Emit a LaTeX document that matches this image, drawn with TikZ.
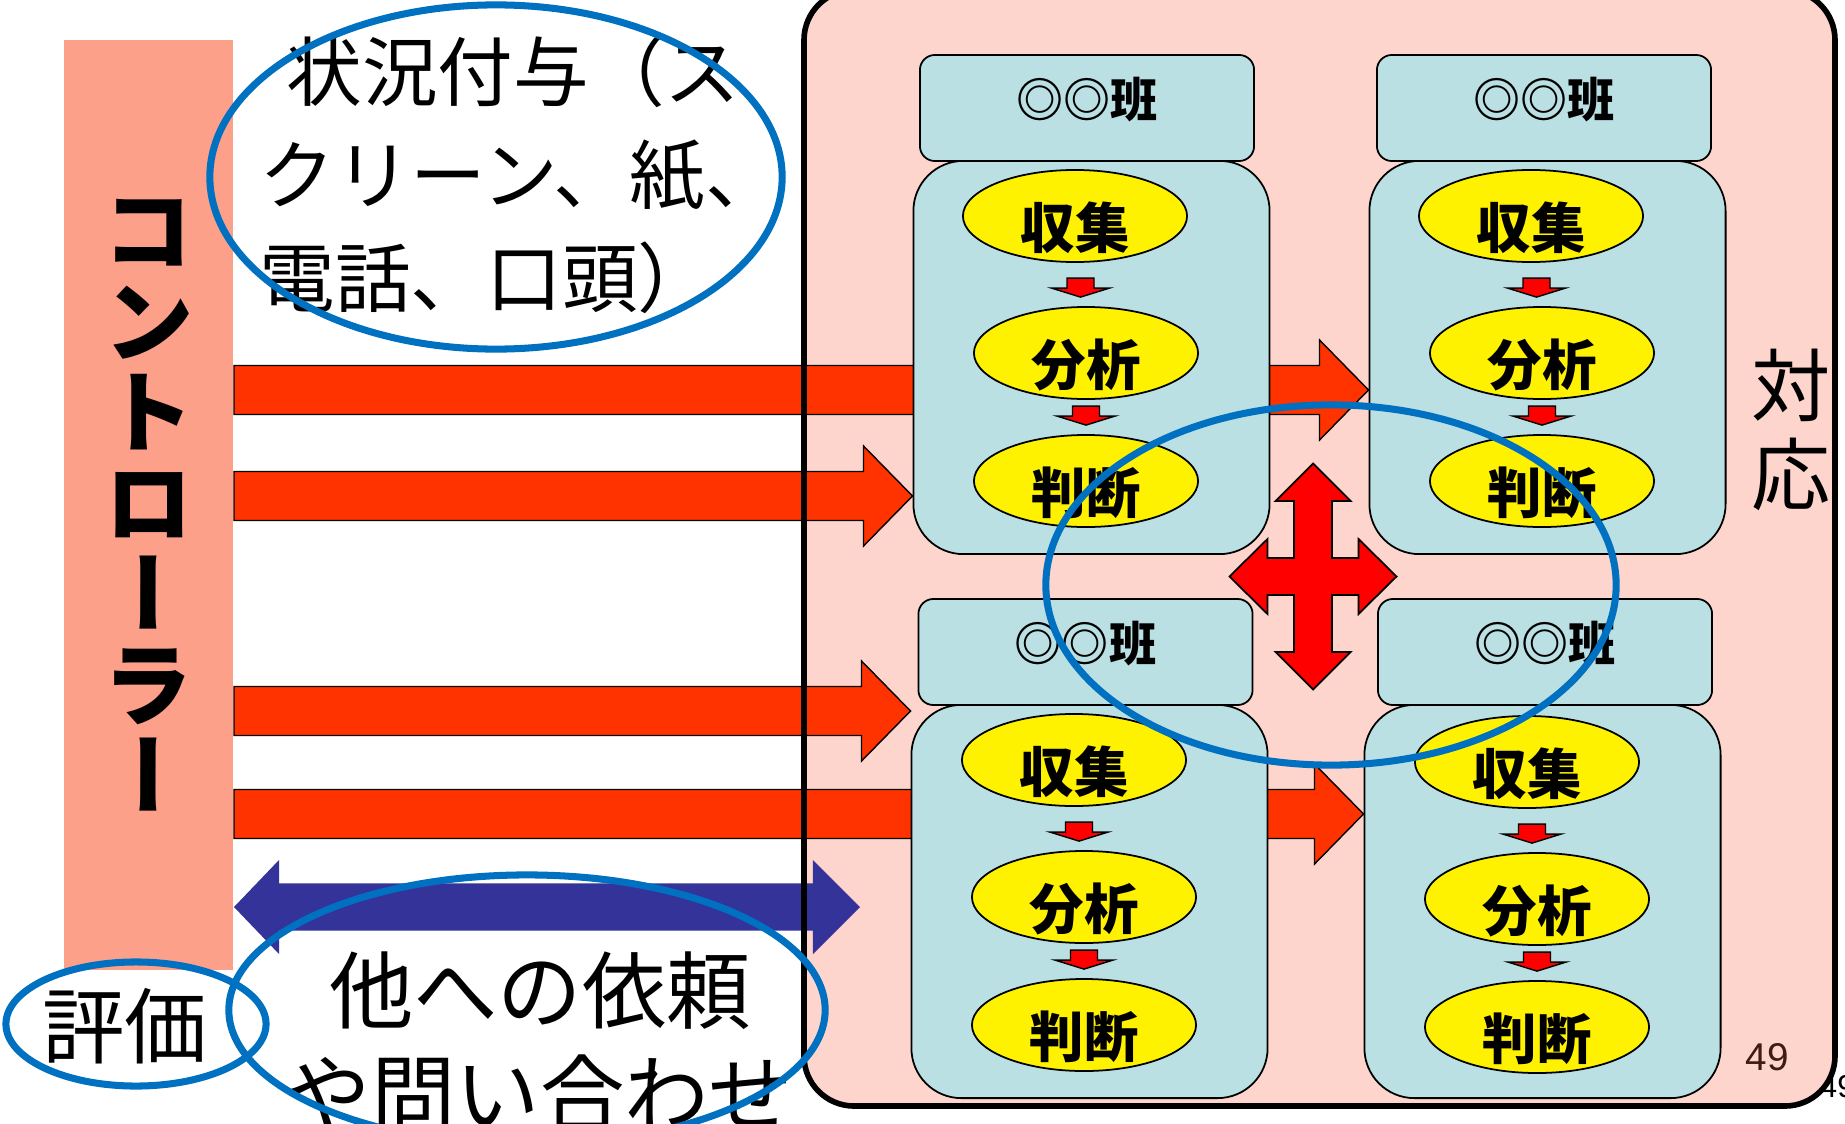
\documentclass[tikz,border=0pt]{standalone}
\usepackage{fontspec}
\setmainfont{Liberation Sans}
\newfontfamily\jp{Noto Sans CJK JP}
\newfontfamily\jpvert{Noto Sans CJK JP}[RawFeature=+vert]
\usetikzlibrary{calc,shapes.geometric}
\definecolor{ctrlsalmon}{RGB}{252,160,137}
\definecolor{resppink}{RGB}{254,213,204}
\definecolor{teamblue}{RGB}{186,224,227}
\definecolor{feedred}{RGB}{255,51,0}
\definecolor{askblue}{RGB}{51,51,153}
\definecolor{ringblue}{RGB}{0,112,192}
\definecolor{stepred}{RGB}{255,0,0}
\definecolor{pagebrown}{RGB}{64,28,16}
\pgfdeclarelayer{paper}
\pgfdeclarelayer{links}
\pgfsetlayers{paper,links,main}
\tikzset{
  ctrlbar/.style={fill=ctrlsalmon, minimum width=1.69cm, minimum height=9.3cm, inner sep=0pt,
    align=center, font=\jpvert\bfseries\fontsize{26}{25.9}\selectfont},
  respbox/.style={fill=resppink, rounded corners=0.5cm, minimum width=10.29cm, minimum height=11.14cm, inner sep=0pt},
  respedge/.style={line width=1.6pt, rounded corners=0.5cm},
  teambody/.style={draw=black, line width=0.5pt, fill=teamblue, rounded corners=0.5cm,
    minimum width=3.56cm, minimum height=3.93cm, inner sep=0pt},
  teamhead/.style={draw=black, line width=0.5pt, fill=teamblue, rounded corners=0.15cm,
    minimum width=3.34cm, minimum height=1.06cm, inner sep=0pt,
    text height=0.3cm, text depth=0.12cm, font=\jp\bfseries\fontsize{13.4}{14}\selectfont},
  task/.style={ellipse, draw=black, line width=0.5pt, fill=yellow, minimum width=2.24cm, minimum height=0.92cm,
    inner sep=0pt, text height=0.64cm, text depth=0cm, font=\jp\bfseries\fontsize{15.5}{16}\selectfont},
  flow/.style={draw=black, line width=0.4pt, fill=stepred,
    to path={let \p1=($(\tikztostart.south)!.5!(\tikztotarget.north)$), \p2=(\tikztotarget.north) in
      (\x1-0.135cm,\y2+0.28cm) -- (\x1+0.135cm,\y2+0.28cm) -- (\x1+0.135cm,\y2+0.18cm) -- (\x1+0.29cm,\y2+0.18cm)
      -- (\x1,\y2+0.09cm) -- (\x1-0.29cm,\y2+0.18cm) -- (\x1-0.135cm,\y2+0.18cm) -- cycle}},
  feed/.style={draw=black, line width=0.4pt, fill=feedred,
    to path={let \p1=(\tikztostart), \p2=(\tikztotarget) in
      (\x1,\y1+0.245cm) -- (\x2-0.49cm,\y1+0.245cm) -- (\x2-0.49cm,\y1+0.5cm) -- (\x2,\y1)
      -- (\x2-0.49cm,\y1-0.5cm) -- (\x2-0.49cm,\y1-0.245cm) -- (\x1,\y1-0.245cm) -- cycle}},
  ask/.style={fill=askblue,
    to path={let \p1=(\tikztostart), \p2=(\tikztotarget) in
      (\x1,\y1) -- (\x1+0.45cm,\y1+0.47cm) -- (\x1+0.45cm,\y1+0.235cm) -- (\x2-0.47cm,\y1+0.235cm)
      -- (\x2-0.47cm,\y1+0.47cm) -- (\x2,\y1) -- (\x2-0.47cm,\y1-0.47cm) -- (\x2-0.47cm,\y1-0.235cm)
      -- (\x1+0.45cm,\y1-0.235cm) -- (\x1+0.45cm,\y1-0.47cm) -- cycle}},
  linkarrow/.style={draw=black, line width=0.5pt, fill=stepred},
  ring/.style={draw=ringblue, line width=2pt},
  given/.style={anchor=west, align=left, inner sep=0pt, font=\jp\fontsize{21.5}{29.3}\selectfont},
  request/.style={align=center, inner sep=0pt, font=\jp\fontsize{24}{29.5}\selectfont},
  review/.style={inner sep=0pt, font=\jp\fontsize{23.5}{28}\selectfont},
  resplabel/.style={align=center, inner sep=0pt, font=\jpvert\fontsize{22.5}{25.3}\selectfont},
  pagenum/.style={inner sep=0pt, text=pagebrown, font=\fontsize{11}{12}\selectfont},
}
\begin{document}
\begin{tikzpicture}[x=0.01cm, y=-0.01cm]
\useasboundingbox (0,0) rectangle (1845,1124);
%
\begin{pgfonlayer}{paper}
\node[respbox] (resp) at (1319.5,548) {};
\end{pgfonlayer}
\node[ctrlbar] (ctrl) at (148.75,505) {コ\\ン\\ト\\ロ\\ー\\ラ\\ー};
%
\node[teambody] (team1) at (1091.5,357.5) {};
\node[teamhead] (team1head) at (1087,108) {◎◎班};
\node[task] (collect1) at (1075,216) {収集};
\node[task] (analyze1) at (1086,353) {分析};
\node[task] (judge1) at (1086,481) {判断};
\draw[flow] (collect1) to (analyze1);
\draw[flow] (analyze1) to (judge1);
%
\node[teambody] (team2) at (1547.5,357.5) {};
\node[teamhead] (team2head) at (1544,108) {◎◎班};
\node[task] (collect2) at (1531,216) {収集};
\node[task] (analyze2) at (1542,353) {分析};
\node[task] (judge2) at (1542,481) {判断};
\draw[flow] (collect2) to (analyze2);
\draw[flow] (analyze2) to (judge2);
%
\node[teambody] (team3) at (1089.5,901.5) {};
\node[teamhead] (team3head) at (1085.5,652) {◎◎班};
\node[task] (collect3) at (1074,760) {収集};
\node[task] (analyze3) at (1084,897) {分析};
\node[task] (judge3) at (1084,1025) {判断};
\draw[flow] (collect3) to (analyze3);
\draw[flow] (analyze3) to (judge3);
%
\node[teambody] (team4) at (1542.5,901.5) {};
\node[teamhead] (team4head) at (1545,652) {◎◎班};
\node[task] (collect4) at (1527,762) {収集};
\node[task] (analyze4) at (1537,899) {分析};
\node[task] (judge4) at (1537,1027) {判断};
\draw[flow] (collect4) to (analyze4);
\draw[flow] (analyze4) to (judge4);
%
\coordinate (reqend) at (860,907);
\begin{pgfonlayer}{links}
\draw[feed] (ctrl.east |- 0,390) to (team2.west);
\draw[feed] (ctrl.east |- 0,496) to (team1.west);
\draw[feed] (ctrl.east |- 0,711) to (team3.west);
\draw[feed] (ctrl.east |- 0,814) to (team4.west);
\path[ask] (ctrl.east |- reqend) to (reqend);
\end{pgfonlayer}
\draw[respedge] (resp.north west) rectangle (resp.south east);
%
\coordinate (link) at (1313,576.5);
\draw[linkarrow, shift={(link)}] (0,-113) -- (37.5,-75.5) -- (19,-75.5) -- (19,-18.5) -- (45.5,-18.5)
  -- (45.5,-37.5) -- (83.5,0) -- (45.5,37.5) -- (45.5,18.5) -- (19,18.5) -- (19,75.5) -- (37.5,75.5)
  -- (0,113) -- (-37.5,75.5) -- (-19,75.5) -- (-19,18.5) -- (-45.5,18.5) -- (-45.5,37.5) -- (-83.5,0)
  -- (-45.5,-37.5) -- (-45.5,-18.5) -- (-19,-18.5) -- (-19,-75.5) -- (-37.5,-75.5) -- cycle;
%
\node[given] (given) at (259,175) {\hspace*{0.27cm}状況付与（ス\\クリーン、紙、\\電話、口頭）};
\node[request] (request) at (540,1042) {他への依頼\\や問い合わせ};
\node[review] (review) at (125,1026) {評価};
\node[resplabel] (resplabel) at (1791,430) {対\\応};
\node[pagenum] (pagenum) at (1767,1057) {49};
\node[anchor=west, inner sep=0pt, font=\fontsize{9}{10}\selectfont] (pagecopy) at (1819,1087) {49};
%
\draw[ring] (496,177) ellipse [x radius=2.86cm, y radius=1.72cm];
\draw[ring] (1331,585) ellipse [x radius=2.85cm, y radius=1.80cm];
\draw[ring] (527,1010) ellipse [x radius=2.98cm, y radius=1.35cm];
\draw[ring] (136,1024) ellipse [x radius=1.30cm, y radius=0.62cm];
\end{tikzpicture}
\end{document}
